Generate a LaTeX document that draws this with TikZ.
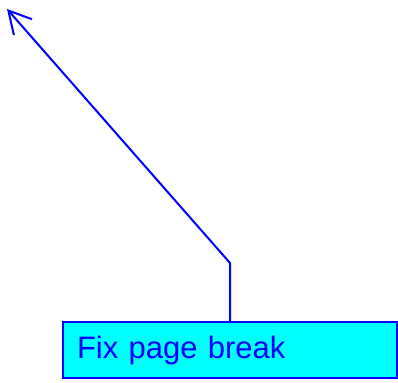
\documentclass[tikz,border=0pt]{standalone}
\usepackage{fontspec}
\setmainfont{Liberation Sans}
\usetikzlibrary{arrows.meta}
\definecolor{boxfill}{RGB}{0,255,255}
\definecolor{inkblue}{RGB}{0,0,255}
\begin{document}
\begin{tikzpicture}[x=1pt,y=-1pt,
  taskbox/.style={draw=inkblue, fill=boxfill, line width=2pt, text=inkblue,
    minimum width=334pt, minimum height=56pt, text width=306pt, align=left,
    inner xsep=14pt, inner ysep=0pt, font=\fontsize{31}{36}\selectfont},
  link/.style={draw=inkblue, line width=2pt, -{Straight Barb[length=22pt,width=24pt,line width=2pt]}}]
\useasboundingbox (0,0) rectangle (398,382);
\node[taskbox] (box) at (230,350) {Fix page break};
\coordinate (bend) at (230,263);
\coordinate (tip) at (7,9);
\draw[link] (box.north) -- (bend) -- (tip);
\end{tikzpicture}
\end{document}
